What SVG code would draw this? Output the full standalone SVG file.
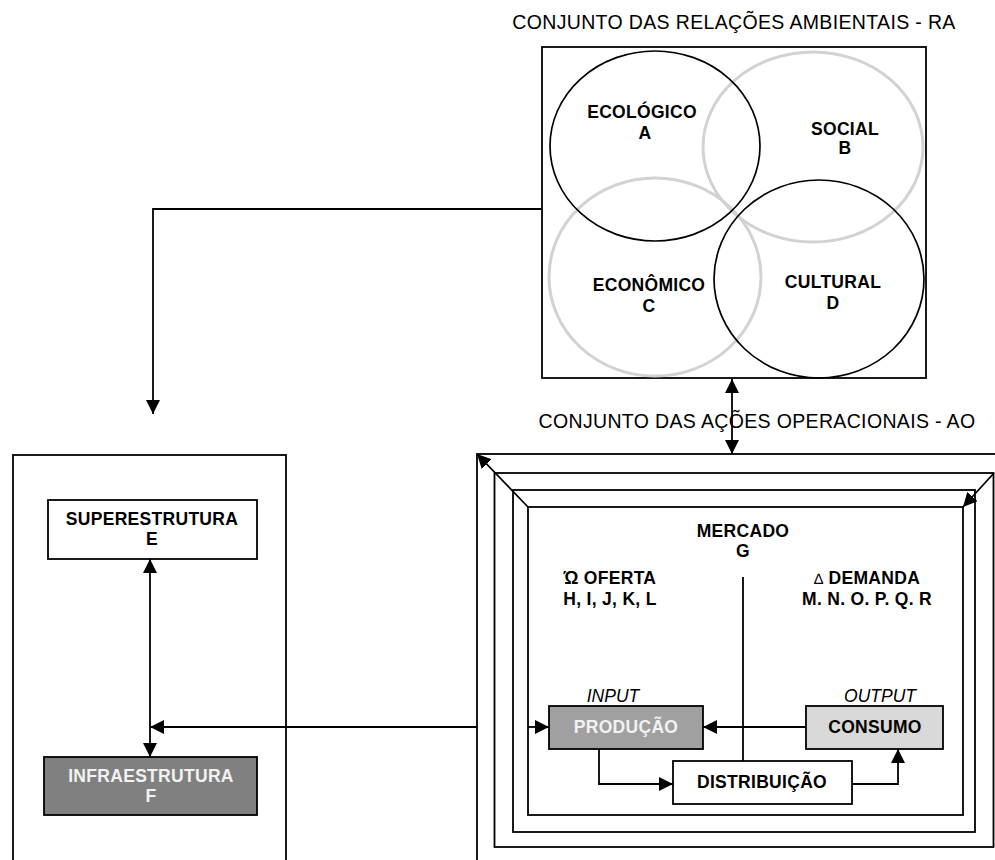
<svg xmlns="http://www.w3.org/2000/svg" width="995" height="860" viewBox="0 0 995 860">
  <style>
    text { font-family: "Liberation Sans", Arial, sans-serif; fill: #000; }
    .title { font-size: 19.5px; letter-spacing: 0.35px; }
    .lbl { font-size: 17.5px; font-weight: bold; text-anchor: middle; letter-spacing: 0.3px; }
    .ital { font-size: 17.5px; font-style: italic; text-anchor: middle; }
    .light { fill: #f2f2f2; }
    .frame { fill: none; stroke: #000; stroke-width: 1.8; }
    .box { stroke: #000; stroke-width: 1.8; }
    .ring { fill: none; stroke: #000; stroke-width: 1.7; }
    .ring-grey { fill: none; stroke: #d2d2d2; stroke-width: 3; }
    .conn { fill: none; stroke: #000; stroke-width: 1.8; }
  </style>
  <defs>
    <marker id="arrow" markerUnits="userSpaceOnUse" markerWidth="15" markerHeight="14" refX="14" refY="7" orient="auto-start-reverse">
      <path d="M0,0 L14,7 L0,14 z" fill="#000"/>
    </marker>
  </defs>

  <rect width="995" height="860" fill="#fff"/>

  <!-- Environmental relations set -->
  <g id="ra">
    <text class="title" x="734" y="29" text-anchor="middle">CONJUNTO DAS RELAÇÕES AMBIENTAIS - RA</text>
    <rect class="frame" x="542" y="47" width="384" height="331"/>
    <ellipse class="ring-grey" cx="813" cy="147" rx="110" ry="95"/>
    <ellipse class="ring-grey" cx="655" cy="277" rx="106" ry="99"/>
    <ellipse class="ring" cx="655" cy="146" rx="105" ry="95"/>
    <ellipse class="ring" cx="819" cy="279" rx="105" ry="99"/>
  </g>
  <g id="ecologico">
    <text class="lbl" x="642" y="118">ECOLÓGICO</text>
    <text class="lbl" x="645" y="139">A</text>
  </g>
  <g id="social">
    <text class="lbl" x="845" y="135">SOCIAL</text>
    <text class="lbl" x="845" y="154">B</text>
  </g>
  <g id="economico">
    <text class="lbl" x="649" y="291">ECONÔMICO</text>
    <text class="lbl" x="649" y="312">C</text>
  </g>
  <g id="cultural">
    <text class="lbl" x="833" y="288">CULTURAL</text>
    <text class="lbl" x="833" y="309">D</text>
  </g>

  <!-- Structures panel -->
  <g id="estruturas">
    <rect class="frame" x="13" y="455" width="273" height="420"/>
  </g>
  <g id="superestrutura">
    <rect class="box" x="48" y="500" width="209" height="59" fill="#fff"/>
    <text class="lbl" x="152" y="525">SUPERESTRUTURA</text>
    <text class="lbl" x="152" y="545">E</text>
  </g>
  <g id="infraestrutura">
    <rect class="box" x="44" y="757" width="213" height="58" fill="#808080"/>
    <text class="lbl light" x="151" y="782">INFRAESTRUTURA</text>
    <text class="lbl light" x="151" y="802">F</text>
  </g>

  <!-- Operational actions set -->
  <g id="ao">
    <text class="title" x="757" y="428" text-anchor="middle">CONJUNTO DAS AÇÕES OPERACIONAIS - AO</text>
    <rect class="frame" x="477" y="454" width="600" height="500"/>
    <rect class="frame" x="494.5" y="473" width="499" height="374"/>
    <rect class="frame" x="513" y="490" width="462" height="342"/>
    <rect class="frame" x="528" y="507" width="435" height="308"/>
  </g>
  <g id="mercado">
    <text class="lbl" x="743" y="537">MERCADO</text>
    <text class="lbl" x="743" y="557">G</text>
  </g>
  <g id="oferta">
    <text class="lbl" x="610" y="584">Ώ OFERTA</text>
    <text class="lbl" x="610" y="605">H, I, J, K, L</text>
  </g>
  <g id="demanda">
    <text class="lbl" x="867" y="584"><tspan font-weight="normal" font-size="15">∆</tspan> DEMANDA</text>
    <text class="lbl" x="867" y="605">M. N. O. P. Q. R</text>
  </g>
  <g id="producao">
    <text class="ital" x="613" y="702">INPUT</text>
    <rect class="box" x="549" y="706" width="154" height="43" fill="#a0a0a0"/>
    <text class="lbl light" x="626" y="733">PRODUÇÃO</text>
  </g>
  <g id="consumo">
    <text class="ital" x="880" y="702">OUTPUT</text>
    <rect class="box" x="806" y="706" width="137" height="43" fill="#d9d9d9"/>
    <text class="lbl" x="875" y="733">CONSUMO</text>
  </g>
  <g id="distribuicao">
    <rect class="box" x="673" y="761" width="179" height="43" fill="#fff"/>
    <text class="lbl" x="762" y="788">DISTRIBUIÇÃO</text>
  </g>

  <!-- Connectors -->
  <g id="connectors">
    <polyline class="conn" points="542,209 153,209 153,414" marker-end="url(#arrow)"/>
    <line class="conn" x1="732" y1="379" x2="732" y2="454" marker-start="url(#arrow)" marker-end="url(#arrow)"/>
    <line class="conn" x1="528" y1="507" x2="477" y2="454" marker-end="url(#arrow)"/>
    <line class="conn" x1="994" y1="473" x2="963" y2="507" marker-end="url(#arrow)"/>
    <line class="conn" x1="477" y1="727" x2="150" y2="727" marker-end="url(#arrow)"/>
    <line class="conn" x1="150" y1="559" x2="150" y2="757" marker-start="url(#arrow)" marker-end="url(#arrow)"/>
    <line class="conn" x1="528" y1="727" x2="549" y2="727" marker-end="url(#arrow)"/>
    <line class="conn" x1="806" y1="727" x2="703" y2="727" marker-end="url(#arrow)"/>
    <polyline class="conn" points="599,749 599,784 673,784" marker-end="url(#arrow)"/>
    <polyline class="conn" points="852,784 898,784 898,749" marker-end="url(#arrow)"/>
    <line class="conn" x1="743" y1="577" x2="743" y2="761"/>
  </g>
</svg>
